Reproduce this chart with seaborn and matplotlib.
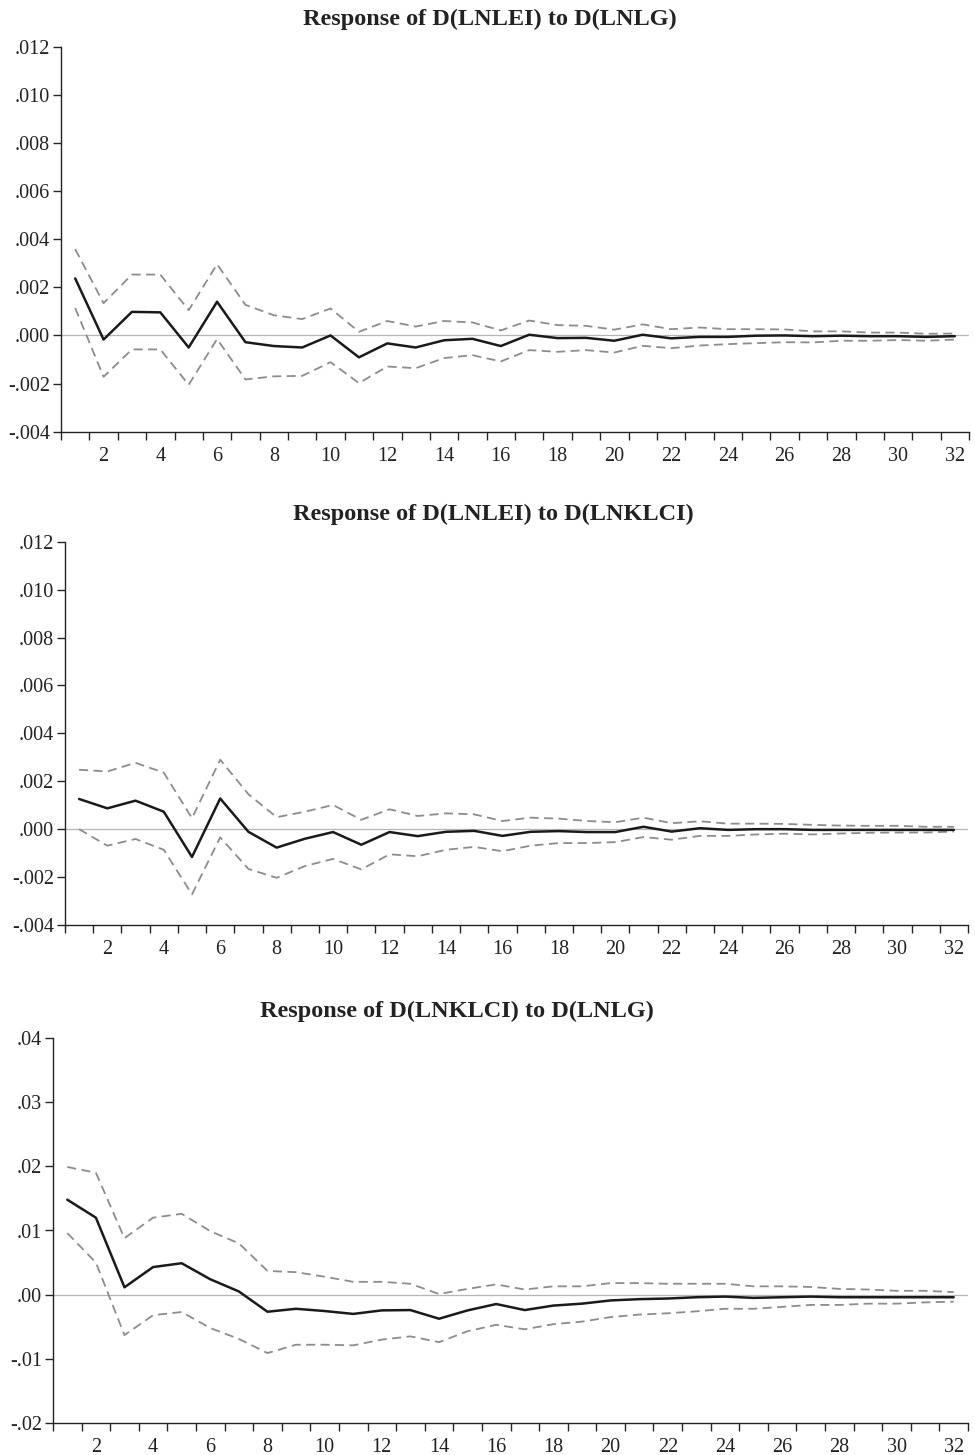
import matplotlib
matplotlib.use("Agg")
import matplotlib.pyplot as plt
import matplotlib.ticker as mticker
import seaborn as sns
import pandas as pd
import numpy as np

sns.set_style("ticks")
plt.rcParams['font.family'] = ['Liberation Serif', 'DejaVu Serif']

periods = list(range(1, 33))

# Response of D(LNLEI) to D(LNLG)
lei_lg = [0.00237, -0.00017, 0.00098, 0.00096, -0.0005, 0.0014, -0.00028, -0.00044,
          -0.0005, 0.0, -0.00091, -0.00033, -0.0005, -0.0002, -0.00014, -0.00044,
          0.00003, -0.00011, -0.0001, -0.00022, 0.00003, -0.00012, -0.00006, -0.00006,
          -0.00001, 0.0, -0.00003, -0.00001, -0.00003, -0.00003, -0.00006, -0.00003]
lei_lg_up = [0.00359, 0.00134, 0.00253, 0.00253, 0.00105, 0.00296, 0.00127, 0.00084,
             0.00068, 0.00112, 0.00015, 0.0006, 0.00037, 0.0006, 0.00054, 0.00021,
             0.00062, 0.00043, 0.0004, 0.00024, 0.00046, 0.00026, 0.00033, 0.00026,
             0.00026, 0.00025, 0.00017, 0.00017, 0.00012, 0.00012, 0.00007, 0.00008]
lei_lg_lo = [0.00114, -0.00172, -0.00058, -0.00058, -0.00205, -0.00015, -0.00183, -0.0017,
             -0.00168, -0.00111, -0.00198, -0.00129, -0.00136, -0.00094, -0.00082, -0.00108,
             -0.00061, -0.00068, -0.00061, -0.00071, -0.00043, -0.00053, -0.00042, -0.00036,
             -0.00032, -0.00028, -0.00029, -0.00022, -0.00022, -0.00019, -0.00022, -0.00017]

# Response of D(LNLEI) to D(LNKLCI)
lei_klci = [0.00126, 0.00087, 0.00119, 0.00073, -0.00116, 0.00128, -0.00011, -0.00077,
            -0.0004, -0.00012, -0.00065, -0.00012, -0.00029, -0.00011, -0.00007, -0.00028,
            -0.00011, -0.00008, -0.00012, -0.00012, 0.0001, -0.0001, 0.00004, -0.00003,
            0.0, 0.0, -0.00003, -0.00003, -0.00003, -0.00003, -0.00003, -0.00003]
lei_klci_up = [0.00248, 0.00241, 0.00277, 0.00236, 0.00046, 0.0029, 0.00146, 0.0005,
               0.00073, 0.00101, 0.00039, 0.00083, 0.00055, 0.00066, 0.00062, 0.00034,
               0.00048, 0.00044, 0.00034, 0.00029, 0.00048, 0.00025, 0.00033, 0.00023,
               0.00023, 0.00022, 0.00018, 0.00015, 0.00014, 0.00014, 0.0001, 0.0001]
lei_klci_lo = [0.0, -0.00069, -0.00041, -0.00086, -0.00272, -0.00034, -0.00166, -0.00203,
               -0.00154, -0.00124, -0.00168, -0.00105, -0.00113, -0.00086, -0.00074, -0.00092,
               -0.00069, -0.00058, -0.00058, -0.00054, -0.00033, -0.00044, -0.00028, -0.00028,
               -0.00022, -0.00019, -0.00022, -0.00018, -0.00015, -0.00014, -0.00014, -0.0001]

# Response of D(LNKLCI) to D(LNLG)
klci_lg = [0.0148, 0.012, 0.00115, 0.0043, 0.0049, 0.0024, 0.0005, -0.00266,
           -0.0022, -0.00255, -0.003, -0.00245, -0.0024, -0.00375, -0.00245, -0.00146,
           -0.0024, -0.0017, -0.0014, -0.0009, -0.0007, -0.0006, -0.0004, -0.0003,
           -0.0005, -0.0004, -0.0003, -0.0004, -0.0004, -0.0004, -0.0004, -0.0004]
klci_lg_up = [0.0199, 0.019, 0.0088, 0.012, 0.0126, 0.0099, 0.008, 0.0037,
              0.0035, 0.0028, 0.002, 0.002, 0.0017, 0.0001, 0.0009, 0.0016,
              0.0008, 0.0013, 0.0013, 0.0018, 0.0018, 0.0017, 0.0017, 0.0017,
              0.0013, 0.0013, 0.0012, 0.0009, 0.0008, 0.0006, 0.0006, 0.0004]
klci_lg_lo = [0.0096, 0.005, -0.0063, -0.0032, -0.0027, -0.0052, -0.0069, -0.0091,
              -0.0078, -0.0078, -0.0079, -0.007, -0.0065, -0.0074, -0.0057, -0.0047,
              -0.0054, -0.0046, -0.0042, -0.0035, -0.0031, -0.0029, -0.0026, -0.0022,
              -0.0022, -0.0019, -0.0016, -0.0016, -0.0014, -0.0014, -0.0012, -0.0011]

panels = [
    ("Response of D(LNLEI) to D(LNLG)", lei_lg, lei_lg_up, lei_lg_lo,
     (-0.004, 0.012), np.arange(-0.004, 0.0121, 0.002), 3),
    ("Response of D(LNLEI) to D(LNKLCI)", lei_klci, lei_klci_up, lei_klci_lo,
     (-0.004, 0.012), np.arange(-0.004, 0.0121, 0.002), 3),
    ("Response of D(LNKLCI) to D(LNLG)", klci_lg, klci_lg_up, klci_lg_lo,
     (-0.02, 0.04), np.arange(-0.02, 0.041, 0.01), 2),
]

# axes boxes in pixels: left, right, top, bottom ; title x center
boxes = [(61, 969, 46.7, 431.7, 490), (65, 968, 541.7, 925, 493), (53, 968, 1038, 1423, 457)]

W, H = 975, 1455
fig = plt.figure(figsize=(W / 100, H / 100), dpi=100)

def make_fmt(nd):
    def f(v, pos):
        s = f"{v:.{nd}f}"
        s = s.replace("0.", ".", 1)
        if s.startswith("-") and float(s) == 0:
            s = s[1:]
        return s
    return f

for (title, resp, up, lo, ylim, yt, nd), (l, r, t, b, tx) in zip(panels, boxes):
    ax = fig.add_axes([l / W, 1 - b / H, (r - l) / W, (b - t) / H])
    df = pd.DataFrame({"period": periods, "resp": resp, "up": up, "lo": lo})
    ax.axhline(0, color="#b5b5b5", lw=0.9, zorder=1)
    sns.lineplot(data=df, x="period", y="up", ax=ax, color="#8c8c8c", lw=1.3,
                 linestyle=(0, (5, 3)))
    sns.lineplot(data=df, x="period", y="lo", ax=ax, color="#8c8c8c", lw=1.3,
                 linestyle=(0, (5, 3)))
    sns.lineplot(data=df, x="period", y="resp", ax=ax, color="#1a1a1a", lw=1.8)
    ax.set_xlim(0.5, 32.5)
    ax.set_ylim(*ylim)
    ax.set_yticks(yt)
    ax.yaxis.set_major_formatter(mticker.FuncFormatter(make_fmt(nd)))
    ax.set_xticks(range(2, 33, 2))
    ax.set_xticks(np.arange(0.5, 33, 1), minor=True)
    ax.tick_params(axis="x", which="major", length=0, pad=11, labelsize=14.5,
                   labelcolor="#222222")
    ax.tick_params(axis="x", which="minor", length=6, width=1.0, direction="out")
    ax.tick_params(axis="y", length=6, width=1.0, labelsize=14.5, pad=2,
                   labelcolor="#222222")
    ax.set_xlabel("")
    ax.set_ylabel("")
    for s in ["top", "right"]:
        ax.spines[s].set_visible(False)
    for s in ["left", "bottom"]:
        ax.spines[s].set_linewidth(1.0)
        ax.spines[s].set_color("#222222")
    ax.text((tx - l) / (r - l), 1 + 27 / (b - t), title, transform=ax.transAxes,
            ha="center", va="center", fontsize=17.5, fontweight="bold", color="#222222")

fig.savefig("out.png", dpi=100)
